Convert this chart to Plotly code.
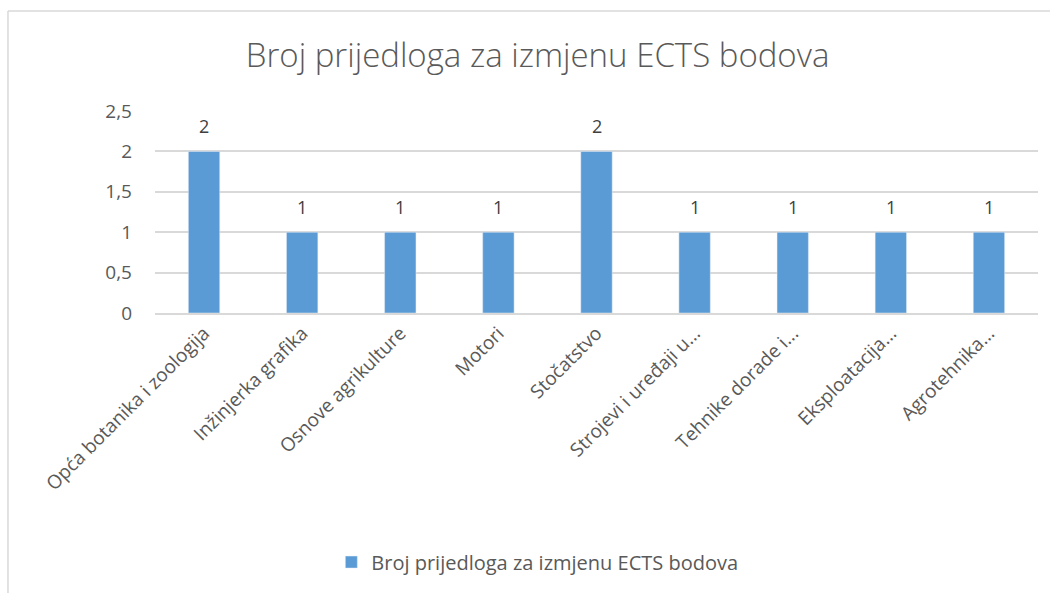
import plotly.graph_objects as go

categories = [
    "Opća botanika i zoologija",
    "Inžinjerka grafika",
    "Osnove agrikulture",
    "Motori",
    "Stočatstvo",
    "Strojevi i uređaji u...",
    "Tehnike dorade i...",
    "Eksploatacija...",
    "Agrotehnika...",
]
values = [2, 1, 1, 1, 2, 1, 1, 1, 1]
series_name = "Broj prijedloga za izmjenu ECTS bodova"
chart_title = "Broj prijedloga za izmjenu ECTS bodova"

TXT = "#595959"
FONT = "Open Sans"

fig = go.Figure()
fig.add_trace(go.Bar(
    x=categories, y=values, name=series_name,
    marker=dict(color="#5b9bd5"),
    showlegend=True,
))

for c, v in zip(categories, values):
    fig.add_annotation(x=c, y=v, text=str(v), showarrow=False,
                       yshift=25, font=dict(family=FONT, size=18, color="#404040"))

# chart frame (top and left edges)
fig.add_shape(type="line", xref="paper", yref="paper",
              x0=-0.1665, x1=1.02, y0=1.495, y1=1.495,
              line=dict(color="#d9d9d9", width=1.5))
fig.add_shape(type="line", xref="paper", yref="paper",
              x0=-0.1665, x1=-0.1665, y0=1.495, y1=-1.5,
              line=dict(color="#d9d9d9", width=1.5))

fig.update_layout(
    width=1050, height=593,
    paper_bgcolor="white", plot_bgcolor="white",
    margin=dict(l=155, r=12, t=111, b=280),
    separators=", ",
    bargap=0.68,
    title=dict(text=chart_title, x=0.512, xanchor="center", y=1 - 55 / 593, yanchor="middle",
               font=dict(family=FONT, size=33, color=TXT, weight=300)),
    font=dict(family=FONT, color=TXT),
    legend=dict(orientation="h", x=0.433, xanchor="center", y=-1.233, yanchor="middle",
                font=dict(family=FONT, size=20, color=TXT)),
    xaxis=dict(tickangle=-45, tickfont=dict(family=FONT, size=19, color=TXT),
               showline=True, linecolor="#d9d9d9", linewidth=1.5, ticks=""),
    yaxis=dict(range=[0, 2.5], dtick=0.5, tickfont=dict(family=FONT, size=19, color=TXT),
               showgrid=True, gridcolor="#d9d9d9", gridwidth=1.5, zeroline=False,
               showline=False, ticks="", ticklabelstandoff=22),
)

fig.write_html("out.html", config={"displayModeBar": False},
               post_script="document.body.style.margin='0';")
